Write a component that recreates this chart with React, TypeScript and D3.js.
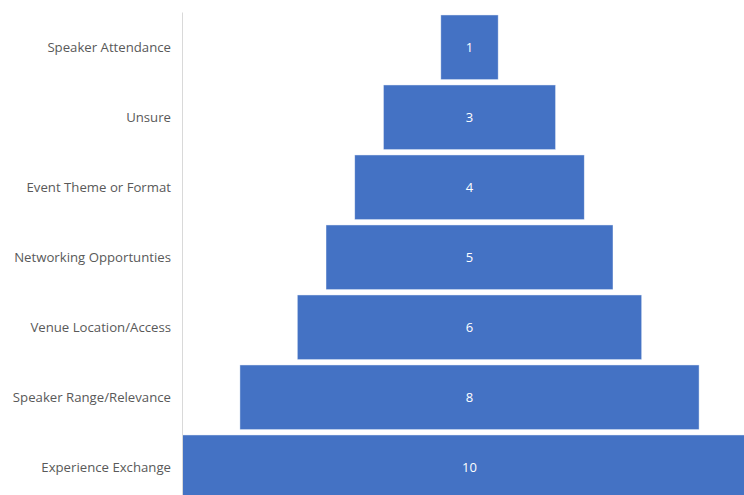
import React from "react";
import * as d3 from "d3";

const categories = [
  "Speaker Attendance",
  "Unsure",
  "Event Theme or Format",
  "Networking Opportunties",
  "Venue Location/Access",
  "Speaker Range/Relevance",
  "Experience Exchange",
];
const values = [1, 3, 4, 5, 6, 8, 10];

const W = 744;
const H = 495;

export default function App() {
  const cx = 469.5;
  const y = d3
    .scaleBand<string>()
    .domain(categories)
    .range([12.3, 502.3])
    .paddingInner(0.076)
    .paddingOuter(0.038);
  const maxV = d3.max(values) as number;
  const w = d3.scaleLinear().domain([0, maxV]).range([0, 2 * (cx - 182.5)]);
  const font = "'Open Sans', 'Noto Sans', sans-serif";

  return (
    <svg
      width={W}
      height={H}
      style={{ position: "fixed", left: 0, top: 0, display: "block", background: "#fff" }}
    >
      {categories.map((c, i) => {
        const bw = w(values[i]);
        const by = y(c) as number;
        return (
          <g key={c}>
            <rect
              x={cx - bw / 2}
              y={by}
              width={bw}
              height={y.bandwidth()}
              fill="#4472C4"
              stroke="#ffffff"
              strokeOpacity={0.6}
              strokeWidth={0.75}
            />
            <text
              x={cx}
              y={by + y.bandwidth() / 2}
              dy="0.35em"
              textAnchor="middle"
              fill="#ffffff"
              fontFamily={font}
              fontSize={13}
            >
              {values[i]}
            </text>
            <text
              x={171}
              y={by + y.bandwidth() / 2}
              dy="0.35em"
              textAnchor="end"
              fill="#595959"
              fontFamily={font}
              fontSize={13.2}
            >
              {c}
            </text>
          </g>
        );
      })}
      <line x1={182.5} x2={182.5} y1={12.5} y2={H} stroke="#d9d9d9" strokeWidth={1} />
    </svg>
  );
}
